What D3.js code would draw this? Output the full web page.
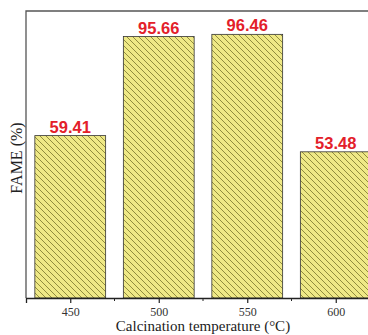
<!DOCTYPE html>
<html>
<head>
<meta charset="utf-8">
<script src="https://cdn.jsdelivr.net/npm/d3@7"></script>
<style>
  body { margin: 0; background: #fff; }
</style>
</head>
<body>
<div id="chart"></div>
<script>
// data
var temps = [450, 500, 550, 600];
var fame = [59.41, 95.66, 96.46, 53.48];
var minorTicks = [475, 525, 575];

var svg = d3.select("#chart")
  .append("svg")
  .attr("width", 368)
  .attr("height", 335);

var mLeft = 26, mTop = 11, mBottom = 298, mRight = 380;

var x = d3.scaleLinear().domain([425, 625]).range([mLeft, mRight]);
var y = d3.scaleLinear().domain([0, 105]).range([mBottom, mTop]);

// hatch pattern
var pat = svg.append("defs").append("pattern")
  .attr("id", "hatch")
  .attr("patternUnits", "userSpaceOnUse")
  .attr("width", 6).attr("height", 6);
pat.append("rect").attr("width", 6).attr("height", 6).attr("fill", "#efe986");
pat.append("path")
  .attr("d", "M0,0 L6,6 M-1,5 L1,7 M5,-1 L7,1")
  .attr("stroke", "#878135")
  .attr("stroke-width", 0.9);

// bars
svg.append("g")
  .selectAll("rect")
  .data(temps)
  .join("rect")
  .attr("x", function (d) { return x(d - 20); })
  .attr("width", function (d) { return x(d + 20) - x(d - 20); })
  .attr("y", function (d, i) { return y(fame[i]); })
  .attr("height", function (d, i) { return mBottom - y(fame[i]); })
  .attr("fill", "url(#hatch)")
  .attr("stroke", "#333")
  .attr("stroke-width", 0.8);

// value labels
svg.append("g")
  .selectAll("text")
  .data(temps)
  .join("text")
  .attr("x", function (d) { return x(d); })
  .attr("y", function (d, i) { return y(fame[i]) - 3; })
  .attr("text-anchor", "middle")
  .attr("font-family", "Liberation Sans, Arial, sans-serif")
  .attr("font-weight", "bold")
  .attr("font-size", 16.5)
  .attr("fill", "#e3202a")
  .text(function (d, i) { return fame[i].toFixed(2); });

// frame (left + top)
svg.append("path")
  .attr("d", "M" + mLeft + "," + mBottom + "V" + mTop + "H368")
  .attr("fill", "none")
  .attr("stroke", "#555")
  .attr("stroke-width", 1.3);

// x axis
var xAxis = svg.append("g")
  .attr("transform", "translate(0," + mBottom + ")")
  .call(d3.axisBottom(x).tickValues(temps).tickSize(5).tickPadding(4).tickFormat(d3.format("d")));
xAxis.select(".domain").attr("stroke", "#222").attr("stroke-width", 1.3);
xAxis.selectAll(".tick line").attr("stroke", "#222").attr("stroke-width", 1.2);
xAxis.selectAll("text")
  .attr("font-family", "Liberation Serif, Times New Roman, serif")
  .attr("font-size", 12)
  .attr("fill", "#333");

svg.append("g")
  .attr("transform", "translate(0," + mBottom + ")")
  .selectAll("line")
  .data(minorTicks)
  .join("line")
  .attr("x1", function (d) { return x(d); })
  .attr("x2", function (d) { return x(d); })
  .attr("y1", 0).attr("y2", 3)
  .attr("stroke", "#222");

// axis titles
svg.append("text")
  .attr("x", 203).attr("y", 331)
  .attr("text-anchor", "middle")
  .attr("font-family", "Liberation Serif, Times New Roman, serif")
  .attr("font-size", 15)
  .attr("fill", "#222")
  .text("Calcination temperature (°C)");

svg.append("text")
  .attr("transform", "translate(22,158) rotate(-90)")
  .attr("text-anchor", "middle")
  .attr("font-family", "Liberation Serif, Times New Roman, serif")
  .attr("font-size", 16)
  .attr("fill", "#222")
  .text("FAME (%)");
</script>
</body>
</html>
